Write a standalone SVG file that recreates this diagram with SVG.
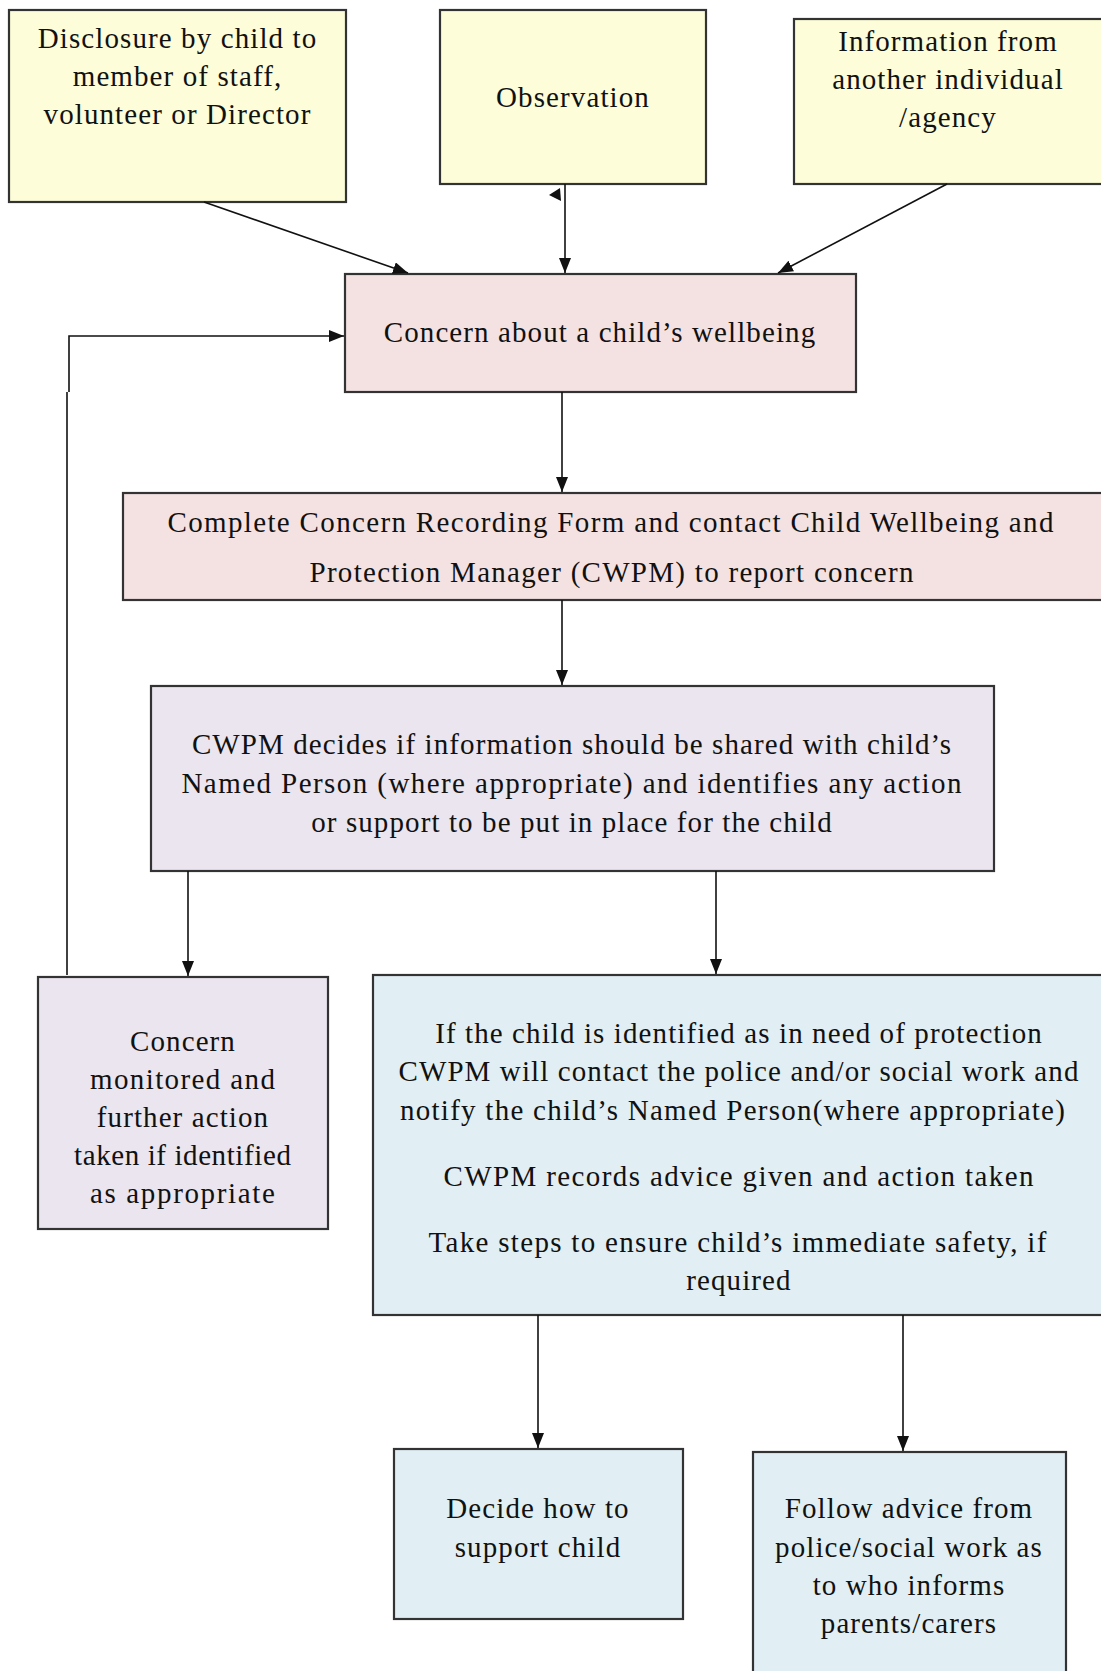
<svg xmlns="http://www.w3.org/2000/svg" width="1101" height="1671" viewBox="0 0 1101 1671">
<defs>
<style>
.box{stroke:#333;stroke-width:2.2}
.y{fill:#FDFDD9}
.p{fill:#F4E2E3}
.l{fill:#EAE5EF}
.b{fill:#E1EFF4}
text{font-family:"Liberation Serif","Times New Roman",serif;font-size:29px;letter-spacing:1.1px;fill:#111;text-anchor:middle}
.c{stroke:#111;stroke-width:1.6;fill:none}
</style>
<marker id="ah" markerUnits="userSpaceOnUse" markerWidth="15" markerHeight="12" refX="15" refY="6" orient="auto"><path d="M0,0 L15,6 L0,12 Z" fill="#111"/></marker>
</defs>
<rect width="1101" height="1671" fill="#fff"/>

<g id="disclosure">
<rect class="box y" x="9" y="10" width="337" height="192"/>
<text><tspan x="177.5" y="48">Disclosure by child to</tspan><tspan x="177.5" y="86">member of staff,</tspan><tspan x="177.5" y="124">volunteer or Director</tspan></text>
</g>
<g id="observation">
<rect class="box y" x="440" y="10" width="266" height="174"/>
<text x="573" y="107">Observation</text>
</g>
<g id="information">
<rect class="box y" x="794" y="19" width="312" height="165"/>
<text><tspan x="948" y="51">Information from</tspan><tspan x="948" y="89">another individual</tspan><tspan x="948" y="127">/agency</tspan></text>
</g>
<g id="concern">
<rect class="box p" x="345" y="274" width="511" height="118"/>
<text x="600" y="342">Concern about a child’s wellbeing</text>
</g>
<g id="recording">
<rect class="box p" x="123" y="493" width="985" height="107"/>
<text x="611" y="532" textLength="887">Complete Concern Recording Form and contact Child Wellbeing and</text>
<text x="612" y="582" textLength="605">Protection Manager (CWPM) to report concern</text>
</g>
<g id="cwpm-decides">
<rect class="box l" x="151" y="686" width="843" height="185"/>
<text x="572" y="754">CWPM decides if information should be shared with child’s</text>
<text x="572" y="793" textLength="781">Named Person (where appropriate) and identifies any action</text>
<text x="572" y="832">or support to be put in place for the child</text>
</g>
<g id="monitored">
<rect class="box l" x="38" y="977" width="290" height="252"/>
<text x="183" y="1051">Concern</text>
<text x="183" y="1089" textLength="186">monitored and</text>
<text x="183" y="1127">further action</text>
<text x="183" y="1165" textLength="218">taken if identified</text>
<text x="183" y="1203" textLength="186">as appropriate</text>
</g>
<g id="protection">
<rect class="box b" x="373" y="975" width="740" height="340"/>
<text x="739" y="1043">If the child is identified as in need of protection</text>
<text x="739" y="1081">CWPM will contact the police and/or social work and</text>
<text x="733" y="1120" textLength="666">notify the child’s Named Person(where appropriate)</text>
<text x="739" y="1186" textLength="591">CWPM records advice given and action taken</text>
<text x="738" y="1252" textLength="619">Take steps to ensure child’s immediate safety, if</text>
<text x="739" y="1290">required</text>
</g>
<g id="decide">
<rect class="box b" x="394" y="1449" width="289" height="170"/>
<text><tspan x="538" y="1518">Decide how to</tspan><tspan x="538" y="1557">support child</tspan></text>
</g>
<g id="follow">
<rect class="box b" x="753" y="1452" width="313" height="240"/>
<text><tspan x="909" y="1518">Follow advice from</tspan><tspan x="909" y="1557">police/social work as</tspan><tspan x="909" y="1595">to who informs</tspan><tspan x="909" y="1633">parents/carers</tspan></text>
</g>

<g id="connectors">
<line class="c" x1="204" y1="202" x2="408" y2="273" marker-end="url(#ah)"/>
<line class="c" x1="565" y1="184" x2="565" y2="273" marker-end="url(#ah)"/>
<polygon points="560,188 549,195 561,201" fill="#111"/>
<line class="c" x1="947" y1="184" x2="778" y2="273" marker-end="url(#ah)"/>
<line class="c" x1="562" y1="392" x2="562" y2="492" marker-end="url(#ah)"/>
<line class="c" x1="562" y1="600" x2="562" y2="685" marker-end="url(#ah)"/>
<line class="c" x1="188" y1="871" x2="188" y2="976" marker-end="url(#ah)"/>
<line class="c" x1="716" y1="871" x2="716" y2="974" marker-end="url(#ah)"/>
<line class="c" x1="538" y1="1315" x2="538" y2="1448" marker-end="url(#ah)"/>
<line class="c" x1="903" y1="1315" x2="903" y2="1451" marker-end="url(#ah)"/>
<polyline class="c" points="67,975 67,392"/>
<polyline class="c" points="69,392 69,336 344,336" marker-end="url(#ah)"/>
</g>
</svg>
